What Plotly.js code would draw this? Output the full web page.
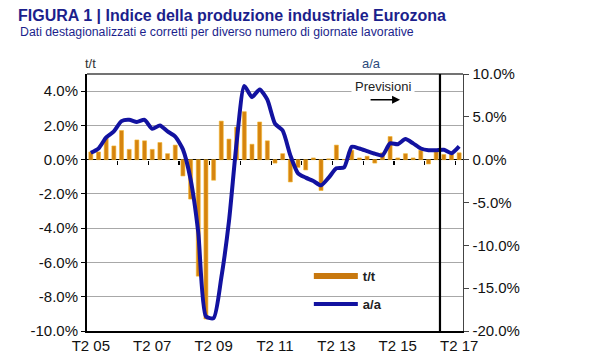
<!DOCTYPE html>
<html><head><meta charset="utf-8">
<script src="https://cdn.plot.ly/plotly-3.0.1.min.js"></script>
<style>html,body{margin:0;padding:0;background:#fff}#chart{width:600px;height:360px}</style>
</head><body><div id="chart"></div>
<script>
const quarters = [
  'T2 05','T3 05','T4 05',
  'T1 06','T2 06','T3 06','T4 06',
  'T1 07','T2 07','T3 07','T4 07',
  'T1 08','T2 08','T3 08','T4 08',
  'T1 09','T2 09','T3 09','T4 09',
  'T1 10','T2 10','T3 10','T4 10',
  'T1 11','T2 11','T3 11','T4 11',
  'T1 12','T2 12','T3 12','T4 12',
  'T1 13','T2 13','T3 13','T4 13',
  'T1 14','T2 14','T3 14','T4 14',
  'T1 15','T2 15','T3 15','T4 15',
  'T1 16','T2 16','T3 16','T4 16',
  'T1 17','T2 17'
];
const tickLabels = ['T2 05','T2 07','T2 09','T2 11','T2 13','T2 15','T2 17'];
// t/t (quarter on quarter, %), left axis
const qoq = [
  0.45, 0.45, 1.3,
  0.8, 1.7, 0.6, 1.15,
  1.1, 0.6, 1.0, 0.35,
  0.85, -0.95, -2.3, -6.8,
  -9.3, -1.2, 2.25, 1.2,
  1.9, 2.8, 0.9, 2.2,
  1.1, -0.2, 0.35, -1.3,
  -0.45, -0.6, 0.1, -1.8,
  0.05, 0.85, 0.0, 0.55,
  0.1, 0.2, -0.2, 0.4,
  1.35, 0.1, 0.35, 0.1,
  0.55, -0.25, 0.45, 0.3,
  0.3, 0.4
];
// a/a (year on year, %), right axis
const yoy = [
  0.8, 1.3, 2.6,
  3.3, 4.5, 4.65, 4.4,
  4.65, 3.6, 4.0, 3.3,
  2.7, 1.2, -2.3, -8.5,
  -18.3, -18.5, -13.8, -7.2,
  2.0, 8.6, 7.3, 8.2,
  7.0, 4.2, 3.4, 0.5,
  -1.6, -2.1, -2.5, -3.0,
  -2.1, -1.0, -0.9, 1.5,
  1.3, 1.0, 0.7, 0.5,
  1.9, 1.8, 2.4, 1.9,
  1.3, 1.1, 1.1, 1.15,
  0.75, 1.55
];
const firstForecast = 'T4 16';
const leftTicks = [-10, -8, -6, -4, -2, 0, 2, 4];
const rightTicks = [-20, -15, -10, -5, 0, 5, 10];

const FONT = 'Liberation Sans, Arial, sans-serif';
const idx = quarters.map((q, i) => i);
const yearTicks = quarters.map((q, i) => (q.startsWith('T2') && i > 0) ? i - 0.5 : null).filter(v => v !== null);
const fcX = quarters.indexOf(firstForecast) - 0.5;
const xr = [-0.5, quarters.length - 0.5];
const pct = v => v.toFixed(1) + '%';

const traces = [
  {type: 'bar', x: quarters, y: qoq, name: 't/t', showlegend: false,
   marker: {color: '#d6840f', line: {color: '#f2b52e', width: 0.6}}},
  {type: 'scatter', mode: 'lines', x: [null], y: [null], name: 't/t', legendgroup: 'a',
   line: {color: '#c8780e', width: 6}, xaxis: 'x2', yaxis: 'y2'},
  {type: 'scatter', mode: 'lines', x: idx, y: yoy, name: 'a/a', legendgroup: 'b',
   line: {color: '#1212a0', width: 4, shape: 'spline', smoothing: 0.6},
   xaxis: 'x2', yaxis: 'y2'}
];

const layout = {
  width: 600, height: 360,
  margin: {l: 87, r: 137, t: 74, b: 29},
  paper_bgcolor: '#fff', plot_bgcolor: '#fff',
  font: {family: FONT, size: 14, color: '#111'},
  bargap: 0.48,
  showlegend: true,
  legend: {x: 0.59, y: 0.272, xanchor: 'left', yanchor: 'top', bgcolor: 'rgba(0,0,0,0)',
           itemwidth: 44,
           font: {family: FONT, size: 13, color: '#222', weight: 'bold'}, tracegroupgap: 8},
  title: {text: '<b>FIGURA 1 | Indice della produzione industriale Eurozona</b>',
          x: 0.03, xref: 'container', xanchor: 'left', y: 1 - 15/360, yref: 'container', yanchor: 'middle',
          font: {family: FONT, size: 16, color: '#1c1f8c'}},
  xaxis: {type: 'category', categoryorder: 'array', categoryarray: quarters, range: xr,
          tickvals: tickLabels, ticktext: tickLabels, ticks: '', showgrid: false,
          showline: true, linecolor: '#000', linewidth: 2, zeroline: false,
          tickfont: {family: FONT, size: 15, color: '#111'}, fixedrange: true},
  xaxis2: {overlaying: 'x', anchor: 'free', position: 10/15, range: xr, type: 'linear',
           tickvals: yearTicks, ticks: 'outside', ticklen: 4, tickcolor: '#000', tickwidth: 1.2,
           showticklabels: false, showgrid: false, showline: false, zeroline: false},
  yaxis: {range: [-10, 5], tickvals: leftTicks, ticktext: leftTicks.map(pct),
          showgrid: true, gridcolor: '#a8a8a8', gridwidth: 1,
          zeroline: true, zerolinecolor: '#000', zerolinewidth: 1.6,
          showline: true, linecolor: '#000', linewidth: 2,
          ticks: 'outside', ticklen: 4, tickcolor: '#000',
          tickfont: {family: FONT, size: 15, color: '#111'}},
  yaxis2: {overlaying: 'y', side: 'right', range: [-20, 10], tickvals: rightTicks, ticktext: rightTicks.map(pct),
           showgrid: false, zeroline: false, showline: true, linecolor: '#444', linewidth: 1.4,
           ticks: 'outside', ticklen: 5, tickcolor: '#444',
           tickfont: {family: FONT, size: 15, color: '#111'}},
  shapes: [
    {type: 'line', xref: 'paper', yref: 'paper', x0: 0, x1: 1, y0: 1, y1: 1, line: {color: '#444', width: 1.4}},
    {type: 'line', xref: 'x2', yref: 'paper', x0: fcX, x1: fcX, y0: 0, y1: 1, line: {color: '#000', width: 2.2}}
  ],
  annotations: [
    {text: 'Dati destagionalizzati e corretti per diverso numero di giornate lavorative',
     xref: 'paper', yref: 'paper', x: -69/376, y: (331-32)/257, xanchor: 'left', yanchor: 'middle',
     showarrow: false, font: {family: FONT, size: 12.3, color: '#1c1f8c'}},
    {text: 't/t', xref: 'paper', yref: 'paper', x: 3/376, y: (331-64)/257, xanchor: 'center', yanchor: 'middle',
     showarrow: false, font: {family: FONT, size: 13, color: '#333'}},
    {text: 'a/a', xref: 'paper', yref: 'paper', x: 284/376, y: (331-64)/257, xanchor: 'center', yanchor: 'middle',
     showarrow: false, font: {family: FONT, size: 13, color: '#2b4a7c'}},
    {text: 'Previsioni', xref: 'x2', yref: 'y', x: 38.1, y: 4.25, xanchor: 'center', yanchor: 'middle',
     showarrow: false, bgcolor: '#fff', borderpad: 3, font: {family: FONT, size: 13, color: '#222'}},
    {text: '', xref: 'x2', yref: 'y', x: 40.3, y: 3.5, ax: -31, ay: 0, showarrow: true,
     arrowhead: 2, arrowsize: 1, arrowwidth: 1.6, arrowcolor: '#000'}
  ]
};

Plotly.newPlot('chart', traces, layout, {staticPlot: true, displayModeBar: false});
</script>
</body></html>
